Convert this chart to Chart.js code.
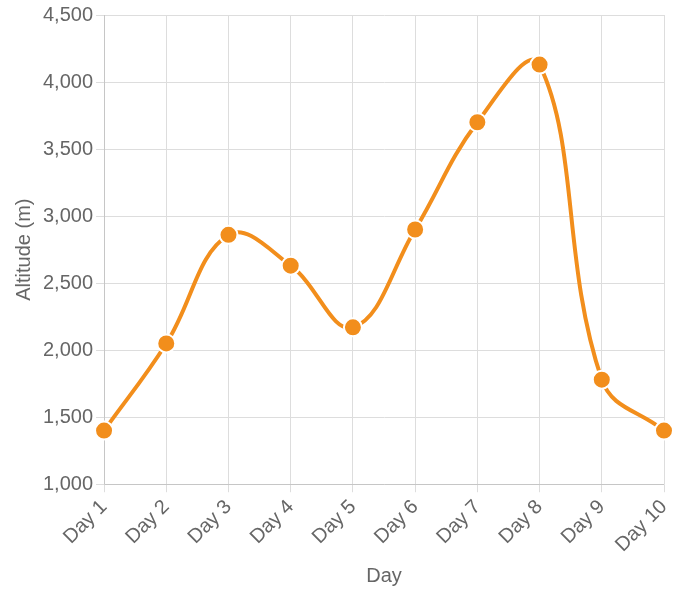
<!DOCTYPE html>
<html><head><meta charset="utf-8">
<script src="https://cdn.jsdelivr.net/npm/chart.js@4"></script>
<style>html,body{margin:0;padding:0;background:#fff}#w{width:688px;height:600px}</style>
</head><body><div id="w"><canvas id="c"></canvas></div>
<script>
const categories = ["Day 1","Day 2","Day 3","Day 4","Day 5","Day 6","Day 7","Day 8","Day 9","Day 10"];
const altitude = [1400,2050,2860,2630,2170,2900,3700,4130,1780,1400];
Chart.defaults.font.family = "'Liberation Sans', Arial, sans-serif";
Chart.defaults.font.size = 20;
Chart.defaults.color = "#666";
new Chart(document.getElementById('c'), {
  type: 'line',
  data: { labels: categories, datasets: [{
    data: altitude, borderColor: '#f28e1c', backgroundColor: '#f28e1c',
    borderWidth: 4, tension: 0.4, pointRadius: 9, pointBorderColor: '#fff',
    pointBorderWidth: 2, fill: false }] },
  options: {
    responsive: true, maintainAspectRatio: false, animation: false,
    layout: { padding: { left: 8, right: 24, top: 10, bottom: 8 } },
    plugins: { legend: { display: false }, tooltip: { enabled: false } },
    scales: {
      x: { title: { display: true, text: 'Day' }, ticks: { maxRotation: 45, minRotation: 45 },
           grid: { color: '#ddd' } },
      y: { min: 1000, max: 4500, title: { display: true, text: 'Altitude (m)' },
           ticks: { stepSize: 500 }, grid: { color: '#ddd' } }
    }
  }
});
</script></body></html>
